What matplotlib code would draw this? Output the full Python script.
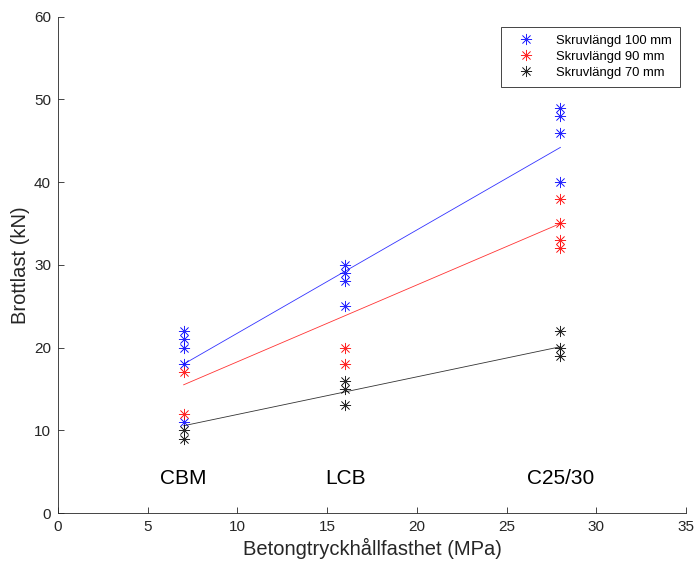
import numpy as np
import matplotlib
matplotlib.use("Agg")
from matplotlib import pyplot as plt

plt.rcParams['font.family'] = ['Liberation Sans', 'DejaVu Sans']

# concrete compressive strength (MPa) per concrete type
concretes = ['CBM', 'LCB', 'C25/30']
strength = [7, 16, 28]

# failure loads (kN) per screw length, grouped by concrete type
load_100 = [[22, 21, 20, 18, 11], [30, 29, 28, 25], [49, 48, 46, 40]]
load_90 = [[17, 12], [20, 18], [38, 35, 33, 32]]
load_70 = [[10, 9], [16, 15, 13], [22, 20, 19]]

# trend lines between CBM and C25/30
trend_x = [7, 28]
trend_100 = [18.0, 44.2]
trend_90 = [15.5, 35.0]
trend_70 = [10.55, 20.1]

axcol = (0.15, 0.15, 0.15)
asterisk = (8, 2, 0)

fig = plt.figure(figsize=(6.96, 5.64), dpi=100)
ax = fig.add_axes([0.0834, 0.0904, 0.9022, 0.880])

series = [
    (load_100, trend_100, (0, 0, 1), 'Skruvlängd 100 mm'),
    (load_90, trend_90, (1, 0, 0), 'Skruvlängd 90 mm'),
    (load_70, trend_70, (0, 0, 0), 'Skruvlängd 70 mm'),
]

for loads, trend, col, name in series:
    xs = [s for s, grp in zip(strength, loads) for _ in grp]
    ys = [v for grp in loads for v in grp]
    ax.plot(xs, ys, linestyle='none', marker=asterisk, markersize=8,
            markeredgewidth=0.5, color=col, alpha=0.85, label=name)
    ax.plot(trend_x, trend, color=col, linewidth=0.6, alpha=0.8)

for name, s in zip(concretes, strength):
    ax.text(s, 4.2, name, ha='center', va='center', fontsize=15, color='black')

ax.set_xlim(0, 35)
ax.set_ylim(0, 60)
ax.set_xticks(np.arange(0, 36, 5))
ax.set_yticks(np.arange(0, 61, 10))

ax.spines['top'].set_visible(False)
ax.spines['right'].set_visible(False)
for sp in ['left', 'bottom']:
    ax.spines[sp].set_color(axcol)
    ax.spines[sp].set_linewidth(0.6)
ax.tick_params(direction='in', length=4, width=0.6, colors=axcol, labelsize=11, pad=5)

ax.set_xlabel('Betongtryckhållfasthet (MPa)', fontsize=14.5, color=axcol, labelpad=3)
ax.set_ylabel('Brottlast (kN)', fontsize=14.5, color=axcol, labelpad=3)

leg = ax.legend(loc='upper right', bbox_to_anchor=(0.99, 0.98), borderaxespad=0,
                fontsize=9.4, frameon=True, fancybox=False, edgecolor=axcol,
                framealpha=1, handletextpad=1.0, borderpad=0.6, labelspacing=0.3,
                handlelength=2.6)
leg.get_frame().set_linewidth(0.6)

fig.savefig('out.png', dpi=100)
